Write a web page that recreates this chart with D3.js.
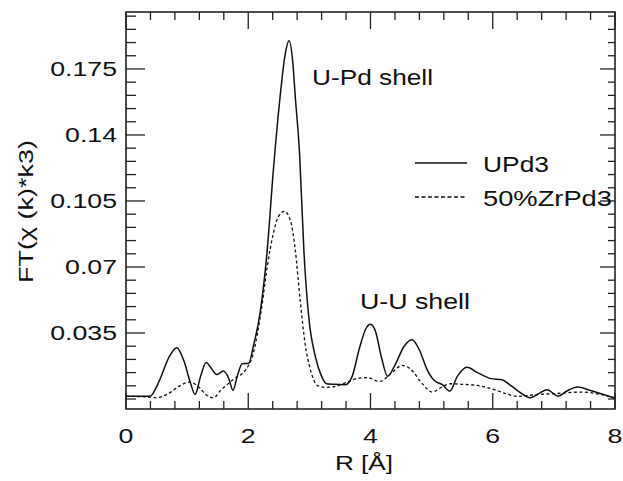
<!DOCTYPE html>
<html>
<head>
<meta charset="utf-8">
<script src="https://cdn.jsdelivr.net/npm/d3@7"></script>
<style>
  html, body { margin: 0; padding: 0; background: #fff; }
  text { font-family: Arial, "Liberation Sans", Helvetica, sans-serif; fill: #111; }
</style>
</head>
<body>
<svg id="chart" width="623" height="481"></svg>
<script>
// R in Angstrom
const rUPd3 = [0.0, 0.39, 0.55, 0.70, 0.83, 0.95, 1.05, 1.13, 1.22, 1.31, 1.40, 1.48, 1.595, 1.68, 1.75, 1.82, 1.90, 2.01,
  2.08, 2.20, 2.31, 2.41, 2.52, 2.60, 2.667, 2.73, 2.77, 2.84, 2.91, 2.99, 3.10, 3.20, 3.28, 3.40, 3.59, 3.70, 3.82, 3.92,
  4.00, 4.08, 4.18, 4.28, 4.40, 4.55, 4.68, 4.80, 4.92, 5.04, 5.18, 5.30, 5.42, 5.58, 5.75, 5.97, 6.15, 6.28, 6.40, 6.62,
  6.76, 6.89, 7.07, 7.20, 7.39, 7.60, 7.80, 8.00];
const ftUPd3 = [0.0014, 0.0014, 0.010, 0.022, 0.0272, 0.020, 0.009, 0.0024, 0.012, 0.0194, 0.016, 0.013, 0.0148, 0.011, 0.0046, 0.012, 0.0187, 0.019,
  0.0275, 0.047, 0.0788, 0.121, 0.160, 0.182, 0.190, 0.178, 0.160, 0.130, 0.0788, 0.0434, 0.0222, 0.012, 0.0081, 0.0078, 0.0076, 0.012, 0.027, 0.037,
  0.0396, 0.036, 0.022, 0.012, 0.018, 0.028, 0.0314, 0.026, 0.016, 0.0099, 0.0075, 0.0042, 0.012, 0.0169, 0.014, 0.0108, 0.0102, 0.0075, 0.0046, 0.0007,
  0.003, 0.0049, 0.0015, 0.004, 0.0063, 0.0045, 0.0025, 0.0005];

const rZr = [0.0, 0.30, 0.50, 0.70, 0.88, 1.05, 1.20, 1.32, 1.43, 1.55, 1.76, 1.97, 2.08, 2.22, 2.31, 2.41, 2.49, 2.59, 2.69,
  2.77, 2.85, 2.93, 3.02, 3.13, 3.25, 3.40, 3.62, 3.80, 3.95, 4.15, 4.35, 4.52, 4.65, 4.85, 5.01, 5.15, 5.31, 5.50, 5.75,
  5.97, 6.20, 6.40, 6.73, 7.00, 7.44, 7.75, 8.00];
const ftZr = [0.0014, 0.0012, 0.0007, 0.003, 0.007, 0.009, 0.006, 0.002, 0.0007, 0.0046, 0.0105, 0.016, 0.024, 0.0487, 0.070, 0.0877, 0.0965, 0.0995, 0.0947,
  0.0788, 0.0523, 0.0293, 0.0152, 0.0072, 0.0062, 0.0065, 0.009, 0.011, 0.0113, 0.0093, 0.014, 0.0178, 0.016, 0.008, 0.0037, 0.006, 0.0081, 0.0078, 0.0072,
  0.0055, 0.003, 0.0014, 0.0024, 0.0028, 0.0037, 0.0025, 0.0005];

const xTicks = [0, 2, 4, 6, 8];
const yTicks = [0.035, 0.07, 0.105, 0.14, 0.175];
const legendNames = ["UPd3", "50%ZrPd3"];

const svg = d3.select("#chart");
const m = { left: 126, right: 615, top: 12, bottom: 409 };

const x = d3.scaleLinear().domain([0, 8]).range([m.left, m.right]);
const y = d3.scaleLinear().domain([-0.0053, 0.2052]).range([m.bottom, m.top]);

const xMinor = d3.range(0, 8.001, 0.4);
const yMinor = d3.range(0, 0.2035, 0.007);

// frame
svg.append("rect")
  .attr("x", m.left).attr("y", m.top)
  .attr("width", m.right - m.left).attr("height", m.bottom - m.top)
  .attr("fill", "none").attr("stroke", "#222").attr("stroke-width", 1.6);

const isMajorX = v => xTicks.some(t => Math.abs(t - v) < 1e-6);
const isMajorY = v => yTicks.some(t => Math.abs(t - v) < 1e-6);

// bottom and top ticks, pointing inward
svg.append("g").selectAll("line").data(xMinor).join("line")
  .attr("x1", d => x(d)).attr("x2", d => x(d))
  .attr("y1", m.bottom).attr("y2", d => m.bottom - (isMajorX(d) ? 16 : 8))
  .attr("stroke", "#222").attr("stroke-width", 1.3);
svg.append("g").selectAll("line").data(xMinor).join("line")
  .attr("x1", d => x(d)).attr("x2", d => x(d))
  .attr("y1", m.top).attr("y2", d => m.top + (isMajorX(d) ? 17 : 8))
  .attr("stroke", "#222").attr("stroke-width", 1.3);

// left and right ticks
svg.append("g").selectAll("line").data(yMinor).join("line")
  .attr("y1", d => y(d)).attr("y2", d => y(d))
  .attr("x1", m.left).attr("x2", d => m.left + (isMajorY(d) ? 19 : 10))
  .attr("stroke", "#222").attr("stroke-width", 1.3);
svg.append("g").selectAll("line").data(yMinor).join("line")
  .attr("y1", d => y(d)).attr("y2", d => y(d))
  .attr("x1", m.right).attr("x2", d => m.right - (isMajorY(d) ? 15 : 7))
  .attr("stroke", "#222").attr("stroke-width", 1.3);

// tick labels (the picture is stretched sideways)
const sx = 1.37;
svg.append("g").selectAll("text").data(xTicks).join("text")
  .attr("transform", d => `translate(${x(d)},443) scale(${sx},1)`)
  .attr("text-anchor", "middle").attr("font-size", 19.5)
  .text(d => d);
svg.append("g").selectAll("text").data(yTicks).join("text")
  .attr("transform", d => `translate(117,${y(d) + 7}) scale(${sx},1)`)
  .attr("text-anchor", "end").attr("font-size", 19.5)
  .text(d => d);

// axis titles
svg.append("text")
  .attr("x", 335).attr("y", 470)
  .attr("font-size", 20)
  .attr("textLength", 58).attr("lengthAdjust", "spacingAndGlyphs")
  .text("R [Å]");
svg.append("text")
  .attr("transform", "translate(33,283) rotate(-90)")
  .attr("font-size", 21)
  .attr("textLength", 143).attr("lengthAdjust", "spacingAndGlyphs")
  .text("FT(χ (k)*k3)");

// curves
const line = d3.line()
  .x(d => x(d[0])).y(d => y(d[1]))
  .curve(d3.curveMonotoneX);

svg.append("path")
  .datum(d3.zip(rZr, ftZr))
  .attr("d", line)
  .attr("fill", "none").attr("stroke", "#111").attr("stroke-width", 1.3)
  .attr("stroke-dasharray", "3,2.5");

svg.append("path")
  .datum(d3.zip(rUPd3, ftUPd3))
  .attr("d", line)
  .attr("fill", "none").attr("stroke", "#111").attr("stroke-width", 1.5);

// annotations
svg.append("text").attr("x", 312).attr("y", 85).attr("font-size", 22)
  .attr("textLength", 121).attr("lengthAdjust", "spacingAndGlyphs")
  .text("U-Pd shell");
svg.append("text").attr("x", 360).attr("y", 309).attr("font-size", 22)
  .attr("textLength", 110).attr("lengthAdjust", "spacingAndGlyphs")
  .text("U-U shell");

// legend
const legendY = [163, 197];
const legendW = [66, 129];
const lg = svg.append("g");
legendNames.forEach((name, i) => {
  lg.append("line")
    .attr("x1", 415).attr("x2", 467)
    .attr("y1", legendY[i]).attr("y2", legendY[i])
    .attr("stroke", "#111").attr("stroke-width", 1.4)
    .attr("stroke-dasharray", i === 1 ? "4,2.5" : null);
  lg.append("text")
    .attr("x", 483).attr("y", legendY[i] + 8.5)
    .attr("font-size", 22)
    .attr("textLength", legendW[i]).attr("lengthAdjust", "spacingAndGlyphs")
    .text(name);
});
</script>
</body>
</html>
